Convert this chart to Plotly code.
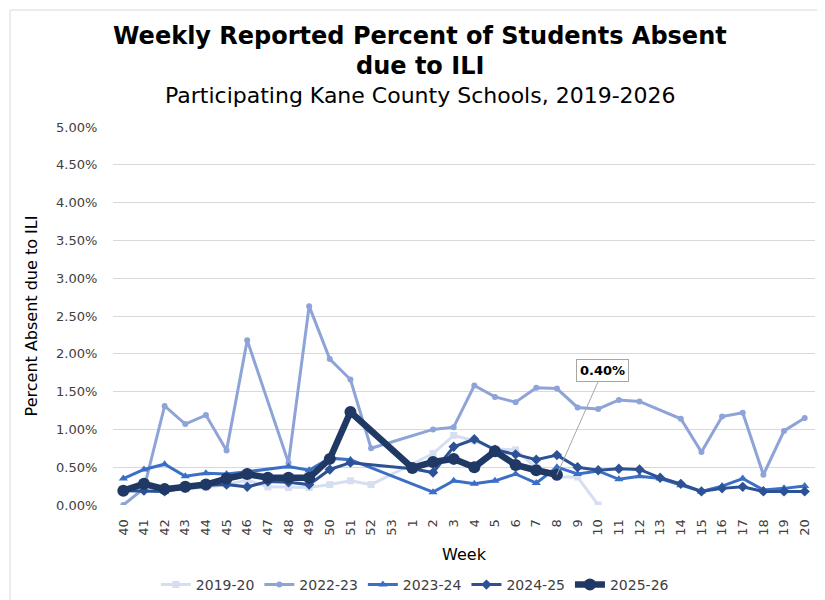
import plotly.graph_objects as go

weeks = ["40", "41", "42", "43", "44", "45", "46", "47", "48", "49", "50", "51", "52", "53",
         "1", "2", "3", "4", "5", "6", "7", "8", "9", "10", "11", "12", "13", "14", "15",
         "16", "17", "18", "19", "20"]

s2019_20 = [0.18, 0.21, 0.20, 0.21, 0.23, 0.27, 0.33, 0.24, 0.23, 0.23, 0.27, 0.32, 0.27, None,
            None, 0.68, 0.92, 0.85, 0.74, 0.73, 0.49, 0.37, 0.37, 0.00, None, None, None, None, None,
            None, None, None, None, None]
s2022_23 = [0.00, 0.22, 1.31, 1.07, 1.19, 0.72, 2.18, None, 0.56, 2.63, 1.93, 1.66, 0.75, None,
            None, 1.00, 1.03, 1.58, 1.43, 1.36, 1.55, 1.54, 1.29, 1.27, 1.39, 1.37, None, 1.14, 0.70,
            1.17, 1.22, 0.40, 0.98, 1.15]
s2023_24 = [0.35, 0.47, 0.54, 0.38, 0.42, 0.41, 0.44, None, 0.51, 0.46, 0.62, 0.60, None, None,
            None, 0.17, 0.32, 0.28, 0.32, 0.41, 0.29, 0.50, 0.41, 0.45, 0.34, 0.38, 0.35, 0.26, 0.18,
            0.25, 0.35, 0.20, 0.22, 0.25]
s2024_25 = [0.19, 0.19, 0.18, 0.23, 0.26, 0.27, 0.24, 0.31, 0.30, 0.27, 0.47, 0.56, None, None,
            0.48, 0.43, 0.77, 0.87, 0.73, 0.67, 0.60, 0.66, 0.50, 0.46, 0.48, 0.47, 0.36, 0.28, 0.18,
            0.22, 0.24, 0.18, 0.18, 0.18]
s2025_26 = [0.19, 0.28, 0.21, 0.24, 0.27, 0.35, 0.41, 0.36, 0.36, 0.36, 0.61, 1.23, None, None,
            0.49, 0.57, 0.61, 0.50, 0.71, 0.53, 0.46, 0.40]

series = [
    ("2019-20", s2019_20, "#D6DFF1", 3, "square", 7),
    ("2022-23", s2022_23, "#8EA3D7", 3, "circle", 6),
    ("2023-24", s2023_24, "#3A6FC5", 3, "triangle-up", 8),
    ("2024-25", s2024_25, "#2D5195", 3, "diamond", 8),
    ("2025-26", s2025_26, "#1F3864", 6.5, "circle", 12),
]

FONT = "DejaVu Sans"

fig = go.Figure()
for name, vals, color, lw, sym, ms in series:
    fig.add_trace(go.Scatter(
        x=weeks[:len(vals)], y=vals, name=name, mode="lines+markers",
        line=dict(color=color, width=lw),
        marker=dict(symbol=sym, size=ms, color=color),
        connectgaps=True,
        hoverinfo="x+y+name",
    ))

last_idx = len(s2025_26) - 1
last_val = s2025_26[-1]

fig.update_layout(
    width=825, height=600,
    margin=dict(l=105, r=18, t=119, b=103, autoexpand=False),
    paper_bgcolor="white", plot_bgcolor="white",
    font=dict(family=FONT, color="#404040"),
    showlegend=True,
    legend=dict(orientation="h", x=0.43, xanchor="center", y=-0.2116, yanchor="middle",
                font=dict(size=14, color="#404040"), itemwidth=30,
                traceorder="normal", tracegroupgap=0),
    xaxis=dict(type="category", categoryorder="array", categoryarray=weeks,
               range=[-0.5, len(weeks) - 0.5], automargin=False,
               tickangle=-90, tickfont=dict(size=13, color="#404040"),
               showgrid=False, showline=False, zeroline=False,
               ticks="outside", ticklen=8, tickcolor="rgba(0,0,0,0)",
               title=dict(text="Week", font=dict(size=16, color="#000000"), standoff=14)),
    yaxis=dict(range=[0, 5], dtick=0.5, tickformat=".2f", ticksuffix="%", automargin=False,
               tickfont=dict(size=13, color="#404040"),
               showgrid=True, gridcolor="#D9D9D9", gridwidth=1,
               zeroline=False, showline=False,
               ticks="outside", ticklen=12, tickcolor="rgba(0,0,0,0)",
               title=dict(text="Percent Absent due to ILI", font=dict(size=16, color="#000000"),
                          standoff=14)),
    annotations=[
        dict(text="<b>Weekly Reported Percent of Students Absent</b>", xref="paper", yref="paper",
             x=0.438, y=1.240, xanchor="center", yanchor="middle", showarrow=False,
             font=dict(size=24, color="#000000", family=FONT)),
        dict(text="<b>due to ILI</b>", xref="paper", yref="paper",
             x=0.438, y=1.161, xanchor="center", yanchor="middle", showarrow=False,
             font=dict(size=24, color="#000000", family=FONT)),
        dict(text="Participating Kane County Schools, 2019-2026", xref="paper", yref="paper",
             x=0.438, y=1.083, xanchor="center", yanchor="middle", showarrow=False,
             font=dict(size=22, color="#000000", family=FONT)),
        dict(text="<b>%.2f%%</b>" % last_val, x=last_idx, y=last_val, xref="x", yref="y",
             showarrow=True, arrowhead=0, arrowwidth=1, arrowcolor="#A6A6A6",
             ax=46, ay=-104, bgcolor="white", bordercolor="#A6A6A6", borderwidth=1, borderpad=3,
             font=dict(size=13, color="#000000", family=FONT)),
    ],
    shapes=[
        dict(type="rect", xref="paper", yref="paper",
             x0=-103 / 702, x1=717 / 702, y0=-101 / 378, y1=495 / 378,
             line=dict(color="#D9D9D9", width=1), fillcolor="rgba(0,0,0,0)", layer="below"),
    ],
)

fig.write_html("out.html")
